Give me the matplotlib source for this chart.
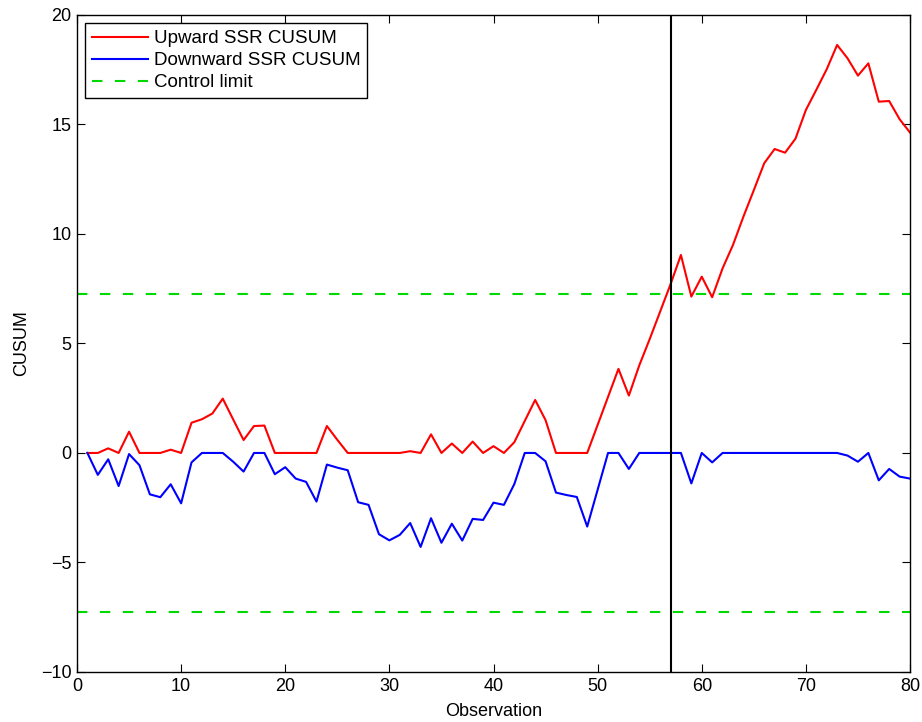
import numpy as np
import matplotlib
matplotlib.use("Agg")
import matplotlib.pyplot as plt

plt.rcParams['font.family'] = ['Liberation Sans', 'DejaVu Sans']

observation = np.arange(1, 81)

upward = [
    0.0, 0.0, 0.21, 0.0, 0.97, 0.0, 0.0, 0.0, 0.15, 0.0,
    1.38, 1.54, 1.80, 2.48, 1.53, 0.59, 1.23, 1.25, 0.0, 0.0,
    0.0, 0.0, 0.0, 1.23, 0.60, 0.0, 0.0, 0.0, 0.0, 0.0,
    0.0, 0.08, 0.0, 0.85, 0.0, 0.43, 0.0, 0.52, 0.0, 0.31,
    0.0, 0.49, 1.46, 2.42, 1.50, 0.0, 0.0, 0.0, 0.0, 1.28,
    2.56, 3.84, 2.62, 4.00, 5.20, 6.45, 7.70, 9.04, 7.14, 8.05,
    7.11, 8.43, 9.50, 10.79, 12.00, 13.23, 13.88, 13.71, 14.35, 15.66,
    16.58, 17.52, 18.63, 18.02, 17.23, 17.79, 16.04, 16.07, 15.24, 14.63,
]

downward = [
    0.0, -1.00, -0.29, -1.51, -0.05, -0.56, -1.89, -2.02, -1.43, -2.30,
    -0.43, 0.0, 0.0, 0.0, -0.40, -0.85, 0.0, 0.0, -0.97, -0.65,
    -1.17, -1.32, -2.22, -0.53, -0.67, -0.79, -2.25, -2.37, -3.71, -3.99,
    -3.74, -3.20, -4.29, -2.98, -4.10, -3.23, -4.00, -3.01, -3.06, -2.27,
    -2.37, -1.42, 0.0, 0.0, -0.38, -1.81, -1.92, -2.01, -3.36, -1.68,
    0.0, 0.0, -0.73, 0.0, 0.0, 0.0, 0.0, 0.0, -1.39, 0.0,
    -0.43, 0.0, 0.0, 0.0, 0.0, 0.0, 0.0, 0.0, 0.0, 0.0,
    0.0, 0.0, 0.0, -0.12, -0.40, 0.0, -1.25, -0.73, -1.08, -1.17,
]

control_limit = 7.26
change_point = 57

fig = plt.figure(figsize=(9.22, 7.22), dpi=100)
ax = fig.add_axes([0.0835, 0.0693, 0.9035, 0.91])

green = (0.0, 0.85, 0.0)
ax.plot(observation, upward, color='red', lw=1.5, label='Upward SSR CUSUM')
ax.plot(observation, downward, color='blue', lw=1.5, label='Downward SSR CUSUM')
ax.axhline(control_limit, color=green, lw=1.5, dashes=(5, 6), label='Control limit')
ax.axhline(-control_limit, color=green, lw=1.5, dashes=(5, 6))
ax.axvline(change_point, color='black', lw=1.5)

ax.set_xlim(0, 80)
ax.set_ylim(-10, 20)
ax.set_xticks(range(0, 81, 10))
ax.set_yticks(range(-10, 21, 5))
ax.tick_params(direction='in', length=6, width=0.8, top=True, right=True, labelsize=13, pad=4)
for s in ax.spines.values():
    s.set_linewidth(1.0)

ax.set_xlabel('Observation', fontsize=13, labelpad=6)
ax.set_ylabel('CUSUM', fontsize=13, labelpad=8)

leg = ax.legend(loc='upper left', fontsize=13.5, handlelength=3.0, handletextpad=0.32,
                borderpad=0.35, labelspacing=0.27, borderaxespad=0.45,
                fancybox=False, framealpha=1)
leg.get_frame().set_edgecolor('black')
leg.get_frame().set_linewidth(1.0)

fig.savefig('out.png', dpi=100)
